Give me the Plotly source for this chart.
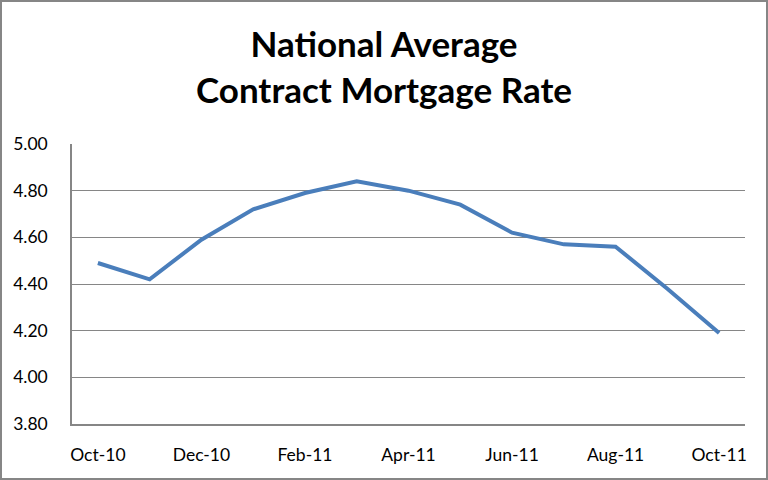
import plotly.graph_objects as go

months = ["Oct-10", "Nov-10", "Dec-10", "Jan-11", "Feb-11", "Mar-11", "Apr-11",
          "May-11", "Jun-11", "Jul-11", "Aug-11", "Sep-11", "Oct-11"]
rates = [4.49, 4.42, 4.59, 4.72, 4.79, 4.84, 4.80, 4.74, 4.62, 4.57, 4.56, 4.38, 4.19]
tick_labels = months[::2]
y_ticks = [3.80, 4.00, 4.20, 4.40, 4.60, 4.80, 5.00]

W, H = 768, 480
ml, mr, mt, mb = 72, 23, 144, 56
pw, ph = W - ml - mr, H - mt - mb

fig = go.Figure()
fig.add_trace(go.Scatter(x=months, y=rates, mode="lines",
                         line=dict(color="#4A7EBB", width=4), hoverinfo="x+y"))

fig.update_layout(
    width=W, height=H,
    margin=dict(l=ml, r=mr, t=mt, b=mb),
    paper_bgcolor="white", plot_bgcolor="white",
    showlegend=False,
    font=dict(family="Lato, Liberation Sans, sans-serif", color="black"),
    title=dict(text="<b>National Average<br>Contract Mortgage Rate</b>",
               x=0.5, xanchor="center", y=1 - 57 / H, yanchor="middle",
               font=dict(size=35, family="Lato, sans-serif", color="black")),
    xaxis=dict(type="category", categoryorder="array", categoryarray=months,
               range=[-0.5, len(months) - 0.5],
               tickmode="array", tickvals=tick_labels, ticktext=tick_labels,
               showgrid=False, showline=True, linecolor="#868686", linewidth=1.5,
               ticks="", ticklabelstandoff=14, tickfont=dict(size=17.5)),
    yaxis=dict(range=[3.80, 5.00], tickmode="array", tickvals=y_ticks,
               ticktext=[f"{v:.2f}" for v in y_ticks],
               showgrid=True, gridcolor="#868686", gridwidth=1,
               showline=True, linecolor="#868686", linewidth=1.5,
               zeroline=False, ticks="", ticklabelstandoff=19,
               tickfont=dict(size=17.5)),
    shapes=[dict(type="rect", xref="paper", yref="paper",
                 x0=-(ml - 1) / pw, x1=1 + (mr - 1) / pw,
                 y0=-(mb - 1) / ph, y1=1 + (mt - 1) / ph,
                 line=dict(color="#868686", width=2), layer="below")],
)

fig.write_html("out.html", config={"displayModeBar": False},
               post_script="document.body.style.margin='0';document.body.style.overflow='hidden';")
